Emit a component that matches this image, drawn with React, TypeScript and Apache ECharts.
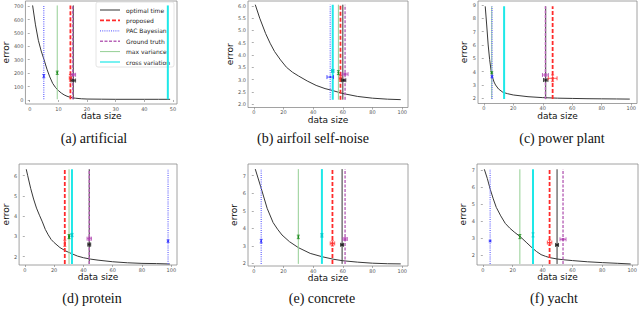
import React, { useEffect, useRef } from "react";
import * as echarts from "echarts";

// ---------- data ----------
const METHODS = ["optimal time", "proposed", "PAC Bayesian", "Ground truth", "max variance", "cross variation"];

// (a) artificial
const curveAX = [1, 2, 3, 4, 5, 6, 7, 8, 9, 10, 11, 12, 13, 14, 15, 16, 18, 20, 25, 30, 35, 40, 45, 49];
const curveAY = [705, 560, 445, 365, 300, 230, 172, 124, 93, 70, 52, 38, 28, 21, 16, 13, 9, 7, 6, 5, 5, 5, 5, 5];
const linesA = [15.2, 14.2, 4.9, 15.0, 9.6, 48.2];
// [method, x, y, xerr, yerr]
const pointsA = [
  [2, 4.9, 178, 0, 12],
  [4, 9.6, 203, 0, 12],
  [1, 14.2, 165, 0.4, 25],
  [3, 15.2, 188, 0.8, 8],
  [0, 15.2, 145, 0.8, 8],
];

// (b) airfoil self-noise
const curveBX = [1, 4, 8, 11, 14, 18, 22, 26, 30, 36, 42, 48, 52, 60, 70, 80, 90, 99];
const curveBY = [6.05, 5.5, 4.87, 4.48, 4.14, 3.8, 3.5, 3.3, 3.15, 2.94, 2.76, 2.63, 2.57, 2.43, 2.31, 2.24, 2.2, 2.18];
const linesB = [60, 58.4, 51.5, 61.5, 57, 53.2];
const pointsB = [
  [2, 51.5, 3.1, 2.2, 0],
  [5, 53.2, 3.35, 0.8, 0.05],
  [4, 57, 3.28, 0, 0.08],
  [1, 58.4, 3.05, 0.8, 0.12],
  [0, 60.5, 2.97, 1.5, 0.04],
  [3, 61.5, 3.22, 2, 0.04],
];

// (c) power plant
const curveCX = [1, 2, 3, 4, 5, 6, 7, 8, 10, 13, 16, 20, 30, 40, 50, 60, 70, 80, 90, 99];
const curveCY = [8.9, 7.5, 6.0, 4.9, 4.05, 3.55, 3.22, 3.0, 2.7, 2.45, 2.35, 2.25, 2.12, 2.05, 2.01, 1.99, 1.97, 1.96, 1.95, 1.94];
const linesC = [42, 46.7, 5.6, 41.8, 5.4, 13.8];
const pointsC = [
  [4, 5.4, 3.92, 0, 0.08],
  [2, 5.6, 3.62, 0, 0.08],
  [3, 41.8, 3.75, 2, 0.08],
  [0, 42, 3.37, 1.5, 0.08],
  [1, 46.7, 3.5, 3, 0.25],
];

// (d) protein
const curveDX = [1, 2, 4, 6, 8, 10, 12, 14, 16, 18, 20, 24, 28, 32, 36, 40, 45, 50, 60, 70, 80, 90, 99];
const curveDY = [6.32, 6.0, 5.38, 4.85, 4.4, 4.05, 3.72, 3.35, 3.08, 2.85, 2.7, 2.45, 2.28, 2.15, 2.03, 1.95, 1.88, 1.83, 1.75, 1.7, 1.67, 1.66, 1.64];
const linesD = [44, 27.3, 97.8, 44, 30.2, 32.2];
const pointsD = [
  [1, 27.3, 2.66, 0.3, 0.15],
  [4, 30.2, 2.99, 0.3, 0.1],
  [5, 32.2, 3.07, 0.5, 0.08],
  [3, 44, 2.89, 1.5, 0.07],
  [0, 44, 2.6, 1, 0.07],
  [2, 97.8, 2.77, 0, 0.06],
];

// (e) concrete
const curveEX = [1, 5, 9, 13, 16, 19, 24, 30, 38, 46, 54, 60, 70, 80, 90, 99];
const curveEY = [7.38, 6.28, 5.14, 4.33, 3.95, 3.62, 3.24, 2.9, 2.57, 2.38, 2.23, 2.15, 2.07, 2.01, 1.98, 1.97];
const linesE = [59.5, 53, 5, 61.5, 30, 45.9];
const pointsE = [
  [2, 5, 3.27, 0, 0.1],
  [4, 30, 3.51, 0, 0.1],
  [5, 45.9, 3.6, 0.5, 0.1],
  [1, 53, 3.14, 1.5, 0.15],
  [0, 59.5, 3.06, 1, 0.05],
  [3, 61.5, 3.39, 1.5, 0.08],
];

// (f) yacht
const curveFX = [1, 3, 5, 7, 9, 12, 15, 18, 21, 25, 29, 33, 36, 39, 42, 45, 50, 55, 60, 70, 80, 90, 99];
const curveFY = [7.04, 6.5, 5.85, 5.3, 4.8, 4.3, 3.86, 3.58, 3.35, 3.08, 2.75, 2.42, 2.2, 2.02, 1.92, 1.84, 1.76, 1.71, 1.67, 1.6, 1.55, 1.51, 1.47];
const linesF = [49.7, 44.7, 4.9, 53.7, 24.8, 33.6];
const pointsF = [
  [2, 4.9, 2.82, 0, 0.05],
  [4, 24.8, 3.08, 0, 0.12],
  [5, 33.6, 3.18, 0, 0.12],
  [1, 44.7, 2.73, 1.5, 0.15],
  [0, 49.7, 2.59, 1, 0.05],
  [3, 53.7, 2.92, 2, 0.05],
];

const ticksX50 = [0, 10, 20, 30, 40, 50];
const ticksX100 = [0, 20, 40, 60, 80, 100];
const ticksYA = [0, 100, 200, 300, 400, 500, 600, 700];
const ticksYB = [2.0, 2.5, 3.0, 3.5, 4.0, 4.5, 5.0, 5.5, 6.0];
const ticksYC = [2, 3, 4, 5, 6, 7, 8, 9];
const ticksYD = [2, 3, 4, 5, 6];
const ticksYE = [2, 3, 4, 5, 6, 7];
const ticksYF = [2, 3, 4, 5, 6, 7];

const CAPTIONS = ["(a) artificial", "(b) airfoil self-noise", "(c) power plant", "(d) protein", "(e) concrete", "(f) yacht"];

// ---------- styles / layout ----------
const LINE_STYLE: any[] = [
  { color: "#333333", width: 1, type: "solid" },
  { color: "#ff2b2b", width: 1.8, type: [4, 2] },
  { color: "#7070ff", width: 1.3, type: [1, 1.2] },
  { color: "#b864b8", width: 1.4, type: [3, 1.5] },
  { color: "#94cf94", width: 1, type: "solid" },
  { color: "#1ee8e8", width: 2, type: "solid" },
];
const ERR_COLOR = ["#222222", "#ff3030", "#3030ff", "#b040b0", "#1a8a1a", "#00cccc"];

const PANELS = [
  { cx: curveAX, cy: curveAY, lines: linesA, pts: pointsA, box: [16, 1, 177, 104], xr: [-1.5, 51.4], yr: [-30, 738], xt: ticksX50, yt: ticksYA, dec: 0, gapY: 8, cap: [94, 138] },
  { cx: curveBX, cy: curveBY, lines: linesB, pts: pointsB, box: [248, 1, 408, 107.5], xr: [-3.9, 103.9], yr: [1.86, 6.2], xt: ticksX100, yt: ticksYB, dec: 1, gapY: 10, cap: [313, 138] },
  { cx: curveCX, cy: curveCY, lines: linesC, pts: pointsC, box: [478, 1, 637, 103.5], xr: [-3.9, 103.9], yr: [1.61, 9.3], xt: ticksX100, yt: ticksYC, dec: 0, gapY: 4, cap: [562, 138] },
  { cx: curveDX, cy: curveDY, lines: linesD, pts: pointsD, box: [17, 164, 177, 265], xr: [-3.9, 103.9], yr: [1.59, 6.58], xt: ticksX100, yt: ticksYD, dec: 0, gapY: 4, cap: [92, 298] },
  { cx: curveEX, cy: curveEY, lines: linesE, pts: pointsE, box: [248, 164, 408, 266], xr: [-3.9, 103.9], yr: [1.85, 7.67], xt: ticksX100, yt: ticksYE, dec: 0, gapY: 10, cap: [322, 298] },
  { cx: curveFX, cy: curveFY, lines: linesF, pts: pointsF, box: [477, 164, 638, 265], xr: [-3.9, 103.9], yr: [1.41, 7.35], xt: ticksX100, yt: ticksYF, dec: 0, gapY: 3, cap: [554, 298] },
];

const SANS = "DejaVu Sans";

function buildOption() {
  const grid: any[] = [];
  const xAxis: any[] = [];
  const yAxis: any[] = [];
  const series: any[] = [];
  const graphic: any[] = [];

  PANELS.forEach((p, i) => {
    const [l, t, r, b] = p.box;
    grid.push({
      left: l, top: t, width: r - l, height: b - t,
      show: true, borderColor: "#8a8a8a", borderWidth: 0.8, backgroundColor: "#ffffff",
    });
    xAxis.push({
      gridIndex: i, type: "value", min: p.xr[0], max: p.xr[1],
      axisLine: { show: false }, splitLine: { show: false },
      axisTick: { show: true, length: 2, customValues: p.xt, lineStyle: { color: "#777", width: 0.6 } },
      axisLabel: { customValues: p.xt, fontSize: 5, color: "#555", margin: 2, fontFamily: SANS },
      name: "data size", nameLocation: "middle", nameGap: 7,
      nameTextStyle: { fontSize: 9, color: "#111", fontFamily: SANS },
    });
    yAxis.push({
      gridIndex: i, type: "value", min: p.yr[0], max: p.yr[1],
      axisLine: { show: false }, splitLine: { show: false },
      axisTick: { show: true, length: 2, customValues: p.yt, lineStyle: { color: "#777", width: 0.6 } },
      axisLabel: {
        customValues: p.yt, fontSize: 5, color: "#555", margin: 2, fontFamily: SANS,
        formatter: (v: number) => v.toFixed(p.dec),
      },
      name: "error", nameLocation: "middle", nameGap: p.gapY, nameRotate: 90,
      nameTextStyle: { fontSize: 9, color: "#111", fontFamily: SANS },
    });

    const ymin = Math.min(...p.cy);
    const ymax = Math.max(...p.cy);

    // curve
    series.push({
      type: "line", xAxisIndex: i, yAxisIndex: i, symbol: "none", silent: true,
      data: p.cx.map((x, k) => [x, p.cy[k]]),
      lineStyle: { color: "#383838", width: 1 }, z: 2,
    });
    // vertical lines
    const order = [4, 5, 2, 0, 3, 1];
    order.forEach((m) => {
      series.push({
        type: "line", xAxisIndex: i, yAxisIndex: i, symbol: "none", silent: true,
        name: METHODS[m],
        data: [[p.lines[m], ymin], [p.lines[m], ymax]],
        lineStyle: LINE_STYLE[m], z: 3,
      });
    });
    // error bars
    series.push({
      type: "custom", xAxisIndex: i, yAxisIndex: i, silent: true, z: 5,
      data: p.pts.map((q) => [q[1], q[2], q[3], q[4], q[0]]),
      encode: { x: 0, y: 1 },
      renderItem: (_params: any, api: any) => {
        const x = api.value(0), y = api.value(1), xe = api.value(2), ye = api.value(3), m = api.value(4);
        const c = api.coord([x, y]);
        const col = ERR_COLOR[m];
        const st = { stroke: col, lineWidth: 0.8 };
        const ch: any[] = [];
        if (xe > 0) {
          const a = api.coord([x - xe, y]);
          const bb = api.coord([x + xe, y]);
          ch.push({ type: "line", shape: { x1: a[0], y1: a[1], x2: bb[0], y2: bb[1] }, style: st });
          ch.push({ type: "line", shape: { x1: a[0], y1: a[1] - 2, x2: a[0], y2: a[1] + 2 }, style: st });
          ch.push({ type: "line", shape: { x1: bb[0], y1: bb[1] - 2, x2: bb[0], y2: bb[1] + 2 }, style: st });
        }
        if (ye > 0) {
          const tp = api.coord([x, y + ye]);
          const bt = api.coord([x, y - ye]);
          ch.push({ type: "line", shape: { x1: tp[0], y1: tp[1], x2: bt[0], y2: bt[1] }, style: st });
          ch.push({ type: "line", shape: { x1: tp[0] - 1.5, y1: tp[1], x2: tp[0] + 1.5, y2: tp[1] }, style: st });
          ch.push({ type: "line", shape: { x1: bt[0] - 1.5, y1: bt[1], x2: bt[0] + 1.5, y2: bt[1] }, style: st });
        }
        ch.push({ type: "circle", shape: { cx: c[0], cy: c[1], r: 0.9 }, style: { fill: col } });
        return { type: "group", children: ch };
      },
    });

    graphic.push({
      type: "text", x: p.cap[0], y: p.cap[1], z: 20,
      style: { text: CAPTIONS[i], fontFamily: "Liberation Serif", fontSize: 14, fill: "#111", align: "center", verticalAlign: "middle" },
    });
  });

  // legend in panel (a)
  const lgX = 96, lgY = 2, lgW = 78, lgH = 65;
  const legendChildren: any[] = [
    { type: "rect", shape: { x: lgX, y: lgY, width: lgW, height: lgH, r: 2 }, style: { fill: "rgba(255,255,255,0.82)", stroke: "#dddddd", lineWidth: 0.8 } },
  ];
  const rowY = [10, 20.4, 30.8, 41.2, 51.6, 62];
  METHODS.forEach((name, m) => {
    const s = LINE_STYLE[m];
    legendChildren.push({
      type: "line", shape: { x1: 100, y1: rowY[m], x2: 120, y2: rowY[m] },
      style: { stroke: s.color, lineWidth: m === 5 ? 1.2 : s.width, lineDash: s.type === "solid" ? null : s.type },
    });
    legendChildren.push({
      type: "text", x: 126, y: rowY[m],
      style: { text: name, fontFamily: SANS, fontSize: 6, fill: "#222", align: "left", verticalAlign: "middle" },
    });
  });
  graphic.push({ type: "group", z: 30, children: legendChildren });

  return {
    animation: false,
    backgroundColor: "#ffffff",
    grid, xAxis, yAxis, series, graphic,
  };
}

export default function App() {
  const ref = useRef<HTMLDivElement>(null);
  useEffect(() => {
    if (!ref.current) return;
    const chart = echarts.init(ref.current, undefined, { renderer: "svg" });
    chart.setOption(buildOption() as any);
    return () => chart.dispose();
  }, []);
  return <div ref={ref} style={{ position: "fixed", left: 0, top: 0, width: 640, height: 311 }} />;
}
